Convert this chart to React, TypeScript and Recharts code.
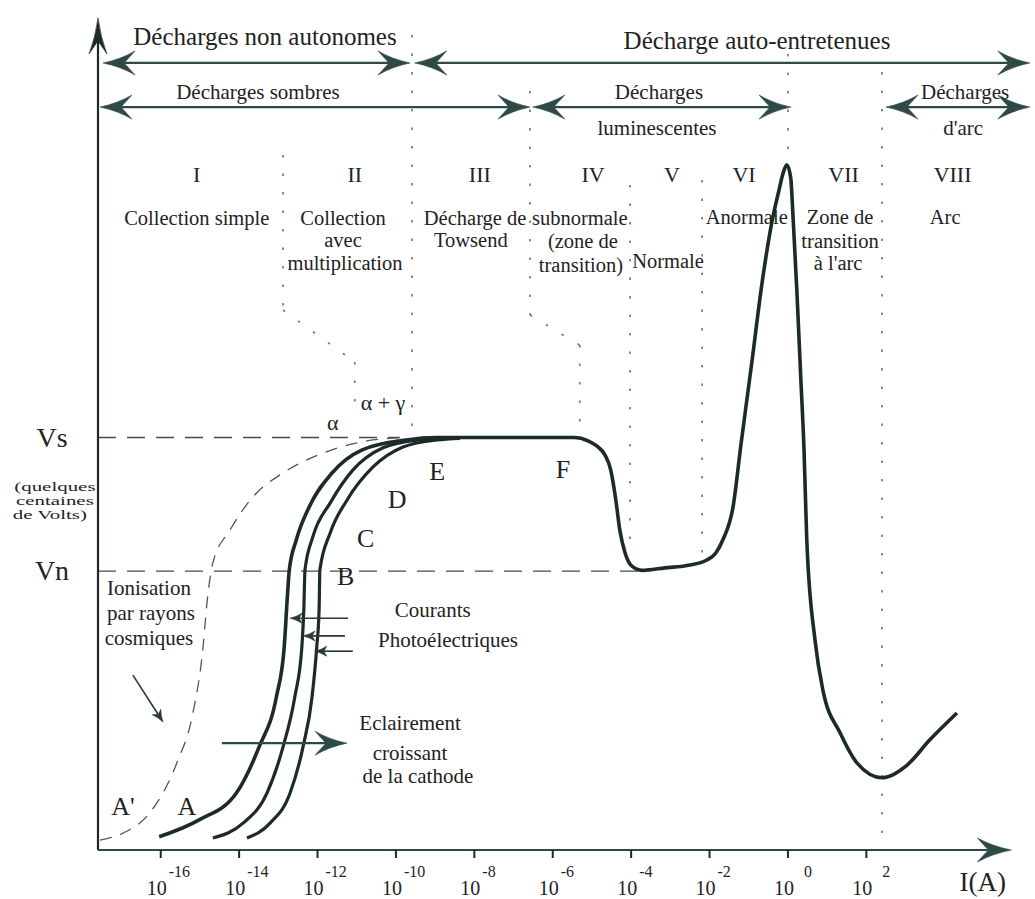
import React from 'react';
import { LineChart, Line, XAxis, YAxis, ReferenceLine, ReferenceDot } from 'recharts';

const W = 1035;
const H = 899;

// x : log10 of the current I (A), schematic; y : voltage in relative units (Vs = 100)
const xTicks = [-16, -14, -12, -10, -8, -6, -4, -2, 0, 2];
const yTickValues = [100, 67.6];
const yTickLabels = ['Vs', 'Vn'];

const curveMain = [
  { d: -16.04, v: 3.2 }, { d: -15.02, v: 7.3 }, { d: -14.07, v: 13.8 }, { d: -13.49, v: 25.0 },
  { d: -13.05, v: 37.1 }, { d: -12.85, v: 49.2 }, { d: -12.77, v: 61.3 }, { d: -12.72, v: 67.9 },
  { d: -12.54, v: 75.2 }, { d: -12.21, v: 83.2 }, { d: -11.63, v: 91.4 }, { d: -10.86, v: 97.0 },
  { d: -9.74, v: 99.4 }, { d: -9.0, v: 100 }, { d: -5.45, v: 100 }, { d: -5.1, v: 99.2 },
  { d: -4.87, v: 97.9 }, { d: -4.67, v: 95.8 }, { d: -4.52, v: 92.1 }, { d: -4.39, v: 84.8 },
  { d: -4.29, v: 77.6 }, { d: -4.16, v: 72.2 }, { d: -3.98, v: 68.8 }, { d: -3.72, v: 67.8 },
  { d: -3.14, v: 68.4 }, { d: -2.5, v: 69.1 }, { d: -2.07, v: 70.3 }, { d: -1.84, v: 72.0 },
  { d: -1.66, v: 75.2 }, { d: -1.4, v: 83.2 }, { d: -1.2, v: 98.2 }, { d: -0.92, v: 118.3 },
  { d: -0.66, v: 137.5 }, { d: -0.41, v: 152.2 }, { d: -0.24, v: 159.5 }, { d: -0.12, v: 164.2 },
  { d: -0.03, v: 166.1 }, { d: 0.07, v: 163.0 }, { d: 0.13, v: 153.5 }, { d: 0.23, v: 135.0 },
  { d: 0.33, v: 113.9 }, { d: 0.41, v: 97.0 }, { d: 0.48, v: 75.2 }, { d: 0.69, v: 50.9 },
  { d: 0.89, v: 38.8 }, { d: 1.33, v: 28.4 }, { d: 1.76, v: 21.1 }, { d: 2.4, v: 17.5 },
  { d: 3.04, v: 20.6 }, { d: 3.62, v: 26.7 }, { d: 4.31, v: 33.2 },
];

const curveB = [
  { d: -14.67, v: 2.9 }, { d: -13.9, v: 6.5 }, { d: -13.29, v: 13.8 }, { d: -12.88, v: 25.0 },
  { d: -12.58, v: 37.1 }, { d: -12.4, v: 49.2 }, { d: -12.35, v: 58.2 }, { d: -12.32, v: 67.9 },
  { d: -12.12, v: 75.9 }, { d: -11.68, v: 84.1 }, { d: -11.1, v: 92.1 }, { d: -10.33, v: 97.5 },
  { d: -9.46, v: 99.4 }, { d: -8.75, v: 99.8 },
];

const curveC = [
  { d: -13.8, v: 2.9 }, { d: -13.21, v: 6.5 }, { d: -12.7, v: 13.8 }, { d: -12.37, v: 25.0 },
  { d: -12.14, v: 37.1 }, { d: -12.02, v: 49.2 }, { d: -11.96, v: 58.2 }, { d: -11.94, v: 67.9 },
  { d: -11.68, v: 76.8 }, { d: -11.25, v: 84.8 }, { d: -10.59, v: 92.8 }, { d: -9.82, v: 97.7 },
  { d: -8.95, v: 99.4 }, { d: -8.37, v: 99.8 },
];

const curveCosmic = [
  { d: -17.55, v: 2.4 }, { d: -16.96, v: 4.1 }, { d: -16.28, v: 9.0 }, { d: -15.59, v: 21.1 },
  { d: -15.18, v: 33.2 }, { d: -14.92, v: 49.2 }, { d: -14.82, v: 59.9 }, { d: -14.67, v: 69.6 },
  { d: -14.23, v: 77.6 }, { d: -13.65, v: 85.6 }, { d: -12.88, v: 91.4 }, { d: -11.86, v: 96.2 },
  { d: -10.59, v: 99.4 }, { d: -9.9, v: 99.9 },
];

// reference levels
const levelLines = [
  { v: 100, from: -17.6, to: -9.9 },
  { v: 67.6, from: -17.6, to: -3.75 },
];

// dotted region boundaries (polylines in data units)
const boundaries = [
  [[-9.59, 197.6], [-9.59, 101.8]],
  [[-12.88, 168.5], [-12.88, 130.9], [-11.05, 118.3], [-11.05, 106.2]],
  [[-6.58, 184.0], [-6.58, 129.7], [-5.31, 122.4], [-5.31, 100.6]],
  [[-4.03, 161.2], [-4.03, 71.5]],
  [[-2.19, 162.4], [-2.19, 71.5]],
  [[0, 193.0], [0, 167.8]],
  [[2.4, 188.6], [2.4, 0]],
];

// arrows between two points in data units
const arrows = [
  { from: [-17.47, 190.8], to: [-9.64, 190.8], heads: 'both', k: 'big' },
  { from: [-9.52, 190.8], to: [6.17, 190.8], heads: 'both', k: 'big' },
  { from: [-17.55, 180.1], to: [-6.58, 180.1], heads: 'both', k: 'big' },
  { from: [-6.51, 180.1], to: [0.08, 180.1], heads: 'both', k: 'big' },
  { from: [2.5, 180.1], to: [6.17, 180.1], heads: 'both', k: 'big' },
  { from: [-14.44, 25.9], to: [-11.25, 25.9], heads: 'end', k: 'big' },
  { from: [-11.22, 56.2], to: [-12.7, 56.2], heads: 'end', k: 'small' },
  { from: [-11.3, 51.9], to: [-12.37, 51.9], heads: 'end', k: 'small' },
  { from: [-11.1, 48.2], to: [-12.07, 48.2], heads: 'end', k: 'small' },
  { from: [-16.71, 42.4], to: [-15.94, 31.0], heads: 'end', k: 'small' },
  { from: [-17.6, 0], to: [-17.6, 201.7], heads: 'end', k: 'axisY' },
  { from: [-17.6, 0], to: [5.7, 0], heads: 'end', k: 'axisX' },
];

const labels = [
  { t: 'Décharges non autonomes', d: -13.34, v: 195.2, k: 'h1' },
  { t: 'Décharge auto-entretenues', d: -0.79, v: 194.2, k: 'h1' },
  { t: 'Décharges sombres', d: -13.52, v: 182.0, k: 'h2' },
  { t: 'Décharges', d: -3.29, v: 182.0, k: 'h2' },
  { t: 'luminescentes', d: -3.34, v: 173.3, k: 'h2' },
  { t: 'Décharges', d: 4.52, v: 182.0, k: 'h2' },
  { t: "d'arc", d: 4.47, v: 173.3, k: 'h2' },
  { t: 'I', d: -15.08, v: 161.9, k: 'roman' },
  { t: 'II', d: -11.05, v: 161.9, k: 'roman' },
  { t: 'III', d: -7.86, v: 161.9, k: 'roman' },
  { t: 'IV', d: -4.97, v: 161.9, k: 'roman' },
  { t: 'V', d: -2.96, v: 161.9, k: 'roman' },
  { t: 'VI', d: -1.12, v: 161.9, k: 'roman' },
  { t: 'VII', d: 1.42, v: 161.9, k: 'roman' },
  { t: 'VIII', d: 4.2, v: 161.9, k: 'roman' },
  { t: 'Collection simple', d: -15.08, v: 151.5, k: 'desc' },
  { t: 'Collection', d: -11.35, v: 151.5, k: 'desc' },
  { t: 'avec', d: -11.35, v: 146.2, k: 'desc' },
  { t: 'multiplication', d: -11.3, v: 140.6, k: 'desc' },
  { t: 'Décharge de', d: -7.98, v: 151.5, k: 'desc' },
  { t: 'Towsend', d: -8.09, v: 146.2, k: 'desc' },
  { t: 'subnormale', d: -5.31, v: 151.5, k: 'desc' },
  { t: '(zone de', d: -5.23, v: 145.9, k: 'desc' },
  { t: 'transition)', d: -5.28, v: 140.1, k: 'desc' },
  { t: 'Normale', d: -3.06, v: 141.1, k: 'desc' },
  { t: 'Anormale', d: -1.05, v: 151.8, k: 'desc' },
  { t: 'Zone de', d: 1.33, v: 151.8, k: 'desc' },
  { t: 'transition', d: 1.33, v: 145.9, k: 'desc' },
  { t: "à l'arc", d: 1.28, v: 140.6, k: 'desc' },
  { t: 'Arc', d: 4.01, v: 151.8, k: 'desc' },
  { t: 'α', d: -11.61, v: 101.8, k: 'greek' },
  { t: 'α + γ', d: -10.33, v: 106.7, k: 'greek' },
  { t: 'E', d: -8.95, v: 89.7, k: 'letter' },
  { t: 'D', d: -9.97, v: 82.9, k: 'letter' },
  { t: 'C', d: -10.77, v: 73.5, k: 'letter' },
  { t: 'B', d: -11.28, v: 64.2, k: 'letter' },
  { t: 'F', d: -5.74, v: 90.2, k: 'letter' },
  { t: 'A', d: -15.33, v: 8.5, k: 'letter' },
  { t: "A'", d: -16.96, v: 8.5, k: 'letter' },
  { t: 'Ionisation', d: -16.3, v: 61.8, k: 'note' },
  { t: 'par rayons', d: -16.25, v: 55.8, k: 'note' },
  { t: 'cosmiques', d: -16.3, v: 49.7, k: 'note' },
  { t: 'Courants', d: -9.06, v: 56.5, k: 'note' },
  { t: 'Photoélectriques', d: -8.67, v: 49.2, k: 'note' },
  { t: 'Eclairement', d: -9.64, v: 29.1, k: 'note' },
  { t: 'croissant', d: -9.64, v: 21.8, k: 'note' },
  { t: 'de la cathode', d: -9.44, v: 16.2, k: 'note' },
  { t: '(quelques', d: -18.7, v: 87.0, k: 'small' },
  { t: 'centaines', d: -18.7, v: 83.6, k: 'small' },
  { t: 'de Volts)', d: -18.83, v: 80.2, k: 'small' },
  { t: 'I(A)', d: 4.97, v: -10.0, k: 'axis' },
];

const FONT = "'Liberation Serif', 'DejaVu Serif', serif";
const INK = '#1c2b29';
const TEAL = '#2e4a46';
const TEXT = '#222222';

const textStyles: Record<string, any> = {
  h1: { fontSize: 25 },
  h2: { fontSize: 21 },
  roman: { fontSize: 22 },
  desc: { fontSize: 20.5 },
  greek: { fontSize: 22 },
  letter: { fontSize: 26 },
  note: { fontSize: 21 },
  small: { fontSize: 13.5, squeeze: 1.55 },
  axis: { fontSize: 27 },
};

const arrowStyles: Record<string, any> = {
  big: { len: 32, hw: 12, notch: 11, width: 2.2, color: TEAL },
  small: { len: 12, hw: 5, notch: 3, width: 1.6, color: '#2a3a38' },
  axisY: { len: 36, hw: 9, notch: 13, width: 2.2, color: INK },
  axisX: { len: 34, hw: 12, notch: 11, width: 2.2, color: TEAL },
};

function head(tx: number, ty: number, ux: number, uy: number, s: any) {
  const px = -uy;
  const py = ux;
  const bx = tx - ux * s.len;
  const by = ty - uy * s.len;
  const nx = tx - ux * (s.len - s.notch);
  const ny = ty - uy * (s.len - s.notch);
  const c1x = tx - ux * s.len * 0.55 + px * s.hw * 0.3;
  const c1y = ty - uy * s.len * 0.55 + py * s.hw * 0.3;
  const c2x = tx - ux * s.len * 0.55 - px * s.hw * 0.3;
  const c2y = ty - uy * s.len * 0.55 - py * s.hw * 0.3;
  const d = `M${tx},${ty} Q${c1x},${c1y} ${bx + px * s.hw},${by + py * s.hw} L${nx},${ny} L${bx - px * s.hw},${by - py * s.hw} Q${c2x},${c2y} ${tx},${ty} Z`;
  return <path d={d} fill={s.color} stroke={s.color} strokeWidth={0.6} />;
}

const makeArrowShape = (a: any) => (p: any) => {
  const { x1, y1, x2, y2 } = p;
  const s = arrowStyles[a.k];
  const dx = x2 - x1;
  const dy = y2 - y1;
  const L = Math.hypot(dx, dy) || 1;
  const ux = dx / L;
  const uy = dy / L;
  const sx = a.heads === 'both' ? x1 + ux * (s.len - s.notch) : x1;
  const sy = a.heads === 'both' ? y1 + uy * (s.len - s.notch) : y1;
  return (
    <g>
      <line x1={sx} y1={sy} x2={x2 - ux * (s.len - s.notch)} y2={y2 - uy * (s.len - s.notch)} stroke={s.color} strokeWidth={s.width} />
      {head(x2, y2, ux, uy, s)}
      {a.heads === 'both' ? head(x1, y1, -ux, -uy, s) : null}
    </g>
  );
};

const makeTextShape = (l: any) => (p: any) => {
  const st = textStyles[l.k];
  if (st.squeeze) {
    return (
      <text
        x={0}
        y={0}
        transform={`translate(${p.cx},${p.cy}) scale(${st.squeeze},1)`}
        textAnchor="middle"
        fontFamily={FONT}
        fontSize={st.fontSize}
        fill={TEXT}
      >
        {l.t}
      </text>
    );
  }
  return (
    <text x={p.cx} y={p.cy} textAnchor="middle" fontFamily={FONT} fontSize={st.fontSize} fill={TEXT}>
      {l.t}
    </text>
  );
};

const XTick = (p: any) => {
  const { x, y, payload } = p;
  const e = payload.value;
  return (
    <g>
      <text x={x - 4} y={y + 35} textAnchor="middle" fontFamily={FONT} fontSize={20} fill={TEXT}>
        10
      </text>
      <text x={x + (e < 0 ? 8 : 16)} y={y + 17} textAnchor="start" fontFamily={FONT} fontSize={16} fill={TEXT}>
        {String(e)}
      </text>
    </g>
  );
};

const YTick = (p: any) => {
  const { x, y, payload } = p;
  const i = yTickValues.indexOf(payload.value);
  return (
    <text x={x - 44} y={y + 9} textAnchor="middle" fontFamily={FONT} fontSize={28} fill={TEXT}>
      {yTickLabels[i]}
    </text>
  );
};

export default function App() {
  return (
    <div style={{ position: 'absolute', left: 0, top: 0, width: W, height: H, background: '#ffffff' }}>
      <LineChart width={W} height={H} margin={{ top: 25, right: 23.6, bottom: 0, left: 0 }}>
        <XAxis
          type="number"
          dataKey="d"
          domain={[-17.6, 5.7]}
          ticks={xTicks}
          allowDataOverflow
          axisLine={false}
          tickSize={8}
          tickLine={{ stroke: INK, strokeWidth: 2 }}
          tick={<XTick />}
          height={49}
          interval={0}
        />
        <YAxis
          type="number"
          dataKey="v"
          domain={[0, 200]}
          ticks={yTickValues}
          allowDataOverflow
          axisLine={false}
          tickLine={false}
          tickSize={0}
          tick={<YTick />}
          width={98}
          interval={0}
        />

        {levelLines.map((l, i) => (
          <ReferenceLine
            key={'lv' + i}
            segment={[{ x: l.from, y: l.v }, { x: l.to, y: l.v }]}
            stroke="#4a4a4a"
            strokeWidth={1.3}
            strokeDasharray="18 11"
            ifOverflow="visible"
          />
        ))}

        {boundaries.flatMap((poly, i) =>
          poly.slice(1).map((pt, j) => (
            <ReferenceLine
              key={'bd' + i + '-' + j}
              segment={[{ x: poly[j][0], y: poly[j][1] }, { x: pt[0], y: pt[1] }]}
              stroke="#777"
              strokeWidth={1.7}
              strokeDasharray="2.5 16"
              ifOverflow="visible"
            />
          ))
        )}

        <Line data={curveCosmic} dataKey="v" type="monotone" stroke="#555" strokeWidth={1.3} strokeDasharray="12 9" dot={false} activeDot={false} isAnimationActive={false} />
        <Line data={curveC} dataKey="v" type="monotone" stroke={INK} strokeWidth={3.2} dot={false} activeDot={false} isAnimationActive={false} />
        <Line data={curveB} dataKey="v" type="monotone" stroke={INK} strokeWidth={3.2} dot={false} activeDot={false} isAnimationActive={false} />
        <Line data={curveMain} dataKey="v" type="monotone" stroke={INK} strokeWidth={3.6} dot={false} activeDot={false} isAnimationActive={false} />

        {arrows.map((a, i) => (
          <ReferenceLine
            key={'ar' + i}
            segment={[{ x: a.from[0], y: a.from[1] }, { x: a.to[0], y: a.to[1] }]}
            ifOverflow="visible"
            shape={makeArrowShape(a)}
          />
        ))}

        {labels.map((l, i) => (
          <ReferenceDot key={'lb' + i} x={l.d} y={l.v} r={0} ifOverflow="visible" shape={makeTextShape(l)} />
        ))}
      </LineChart>
    </div>
  );
}
